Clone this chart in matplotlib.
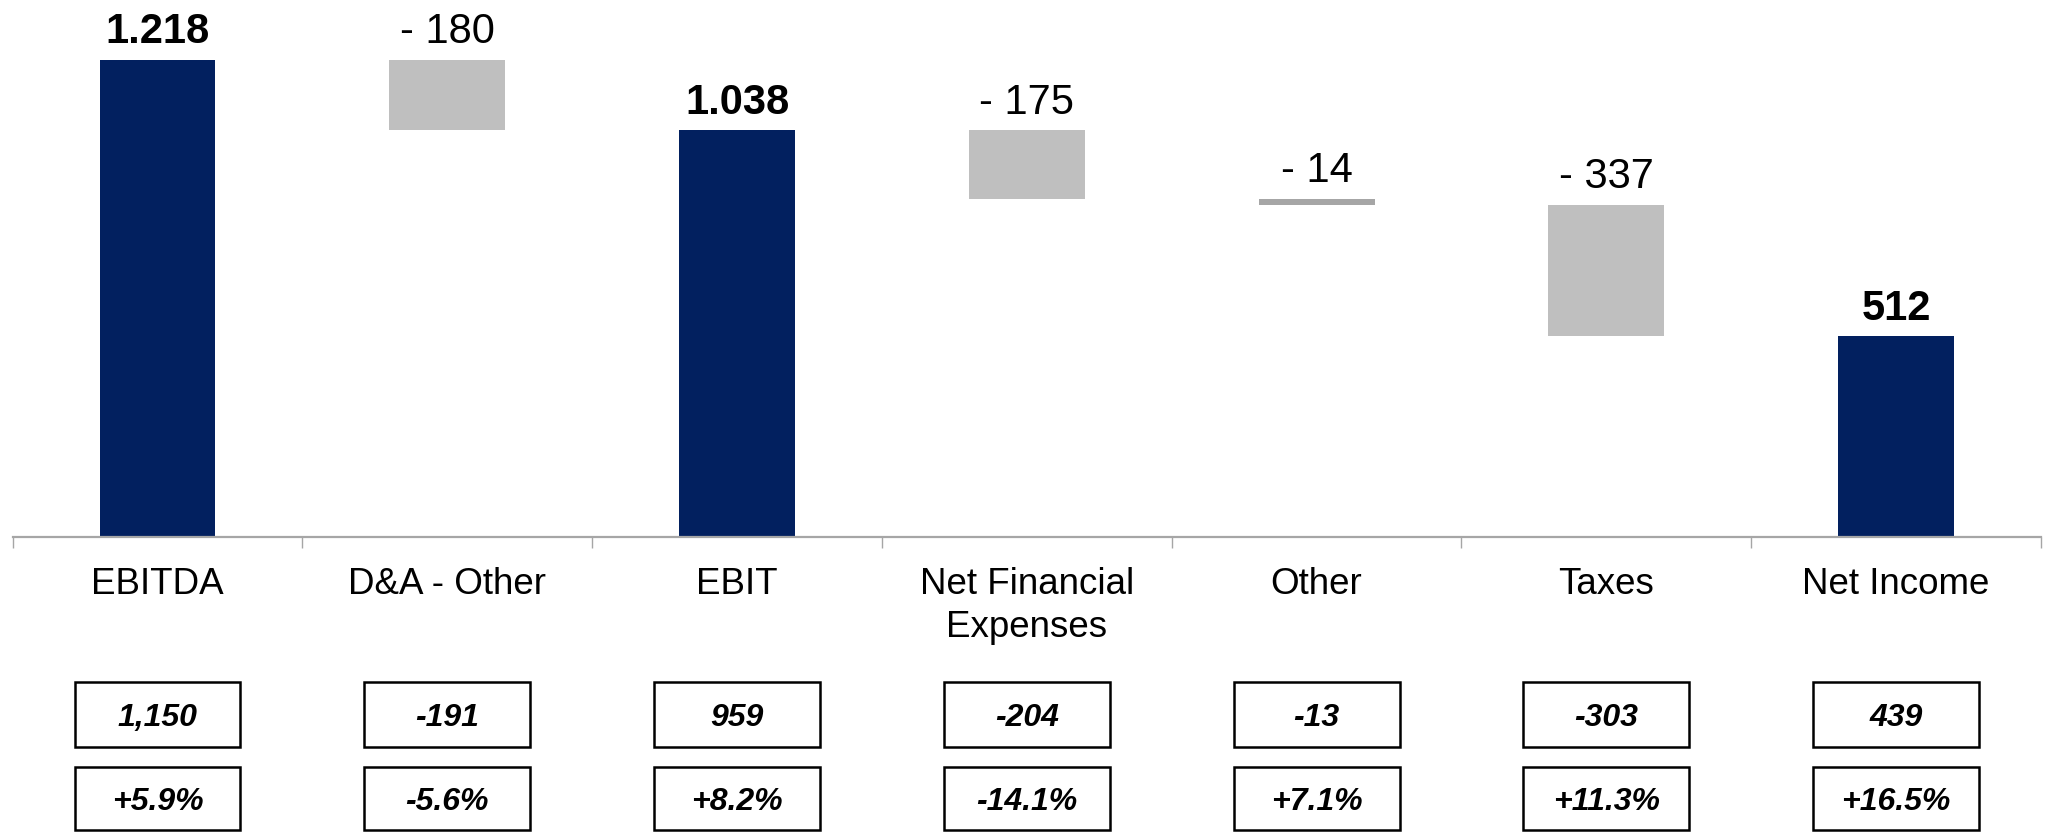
import matplotlib
matplotlib.use("Agg")
import matplotlib.pyplot as plt
from matplotlib.patches import Rectangle
from matplotlib.transforms import blended_transform_factory

# ---- data ----
categories = ['EBITDA', 'D&A - Other', 'EBIT', 'Net Financial\nExpenses', 'Other', 'Taxes', 'Net Income']
values = [1218, -180, 1038, -175, -14, -337, 512]
is_total = [True, False, True, False, False, False, True]
value_labels = ['1.218', '- 180', '1.038', '- 175', '- 14', '- 337', '512']
prior_year = ['1,150', '-191', '959', '-204', '-13', '-303', '439']
yoy_change = ['+5.9%', '-5.6%', '+8.2%', '-14.1%', '+7.1%', '+11.3%', '+16.5%']

# ---- style ----
NAVY = '#02205F'
GRAY = '#BFBFBF'
DARKGRAY = '#A6A6A6'
FONT = ['Liberation Sans', 'DejaVu Sans']
plt.rcParams['font.family'] = FONT

W, H = 2050, 833
fig = plt.figure(figsize=(W / 100, H / 100), dpi=100)

def fy(px):
    return 1 - px / H

ax_left, ax_right, ax_base = 12.6, 2041, 537
ax = fig.add_axes([ax_left / W, fy(ax_base), (ax_right - ax_left) / W, ax_base / H])
ax.set_xlim(-0.5, len(categories) - 0.5)
ax.set_ylim(0, 1371.2)

# waterfall geometry
running = 0
bottoms, heights = [], []
for v, tot in zip(values, is_total):
    if tot:
        bottoms.append(0)
        heights.append(v)
        running = v
    else:
        bottoms.append(running + v)
        heights.append(-v)
        running = running + v

colors = []
for v, tot in zip(values, is_total):
    if tot:
        colors.append(NAVY)
    elif abs(v) < 20:
        colors.append(DARKGRAY)
    else:
        colors.append(GRAY)

x = list(range(len(categories)))
ax.bar(x, heights, bottom=bottoms, width=0.4, color=colors, linewidth=0, zorder=2)

# value labels
for xi, b, h, lab, tot in zip(x, bottoms, heights, value_labels, is_total):
    ax.annotate(lab, (xi, b + h), xytext=(0, 12.2), textcoords='offset points',
                ha='center', va='baseline', fontsize=30,
                fontweight='bold' if tot else 'normal', color='black')

# axes styling
for s in ['top', 'right', 'left']:
    ax.spines[s].set_visible(False)
ax.spines['bottom'].set_color('#A6A6A6')
ax.spines['bottom'].set_linewidth(1.6)
ax.set_yticks([])
ax.set_xticks([i - 0.5 for i in range(len(categories) + 1)])
ax.set_xticklabels([])
ax.tick_params(axis='x', direction='out', length=8, width=1.0, color='#A6A6A6')

trans = blended_transform_factory(ax.transData, fig.transFigure)

# category labels (each line placed by its own baseline)
for xi, c in zip(x, categories):
    for k, line in enumerate(c.split('\n')):
        ax.text(xi, fy(594 + 43 * k), line, transform=trans, ha='center',
                va='baseline', fontsize=26.5, clip_on=False)

# boxes
box_w = 166 / 290
rows = [(prior_year, 682, 747), (yoy_change, 767, 830)]
for labels, top, bot in rows:
    for xi, lab in zip(x, labels):
        r = Rectangle((xi - box_w / 2, fy(bot)), box_w, (bot - top) / H,
                      transform=trans, facecolor='white', edgecolor='black',
                      linewidth=1.8, clip_on=False, zorder=3)
        ax.add_patch(r)
        ax.text(xi, fy((top + bot) / 2), lab, transform=trans, ha='center',
                va='center_baseline', fontsize=23, fontweight='bold',
                fontstyle='italic', clip_on=False, zorder=4)

fig.savefig('out.png', dpi=100, facecolor='white')
